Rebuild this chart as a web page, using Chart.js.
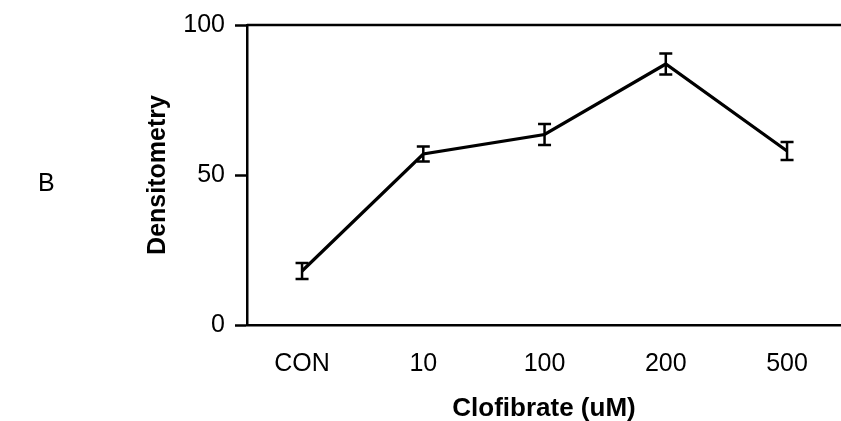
<!DOCTYPE html>
<html>
<head>
<meta charset="utf-8">
<script src="https://cdn.jsdelivr.net/npm/chart.js@4.4.1/dist/chart.umd.min.js"></script>
<style>
  html, body { margin: 0; padding: 0; background: #fff; overflow: hidden; }
  #wrap { position: relative; width: 841px; height: 421px; }
  #panel { position: absolute; left: 38px; top: 168px; font: 25px "Liberation Sans", Arial, sans-serif; color: #000; }
</style>
</head>
<body>
<div id="wrap">
  <canvas id="c" width="841" height="421"></canvas>
  <div id="panel">B</div>
</div>
<script>
const categories = ['CON', '10', '100', '200', '500'];
const densitometry = [18, 57, 63.5, 87, 58];
const errors = [2.7, 2.5, 3.5, 3.5, 3];
const yTicks = [0, 50, 100];
const xTitle = 'Clofibrate (uM)';
const yTitle = 'Densitometry';

const FONT = '"Liberation Sans", Arial, sans-serif';

const errorBars = {
  id: 'errorBars',
  afterDatasetsDraw(chart) {
    const ctx = chart.ctx;
    const xs = chart.scales.x, ys = chart.scales.y;
    ctx.save();
    ctx.strokeStyle = '#000';
    ctx.lineWidth = 2.5;
    densitometry.forEach((v, i) => {
      const x = xs.getPixelForValue(i);
      const yt = ys.getPixelForValue(v + errors[i]);
      const yb = ys.getPixelForValue(v - errors[i]);
      ctx.beginPath();
      ctx.moveTo(x, yt); ctx.lineTo(x, yb);
      ctx.moveTo(x - 6.5, yt); ctx.lineTo(x + 6.5, yt);
      ctx.moveTo(x - 6.5, yb); ctx.lineTo(x + 6.5, yb);
      ctx.stroke();
    });
    ctx.restore();
  },
  afterDraw(chart) {
    const ctx = chart.ctx;
    const a = chart.chartArea;
    ctx.save();
    ctx.strokeStyle = '#000';
    ctx.lineWidth = 2.5;
    ctx.beginPath();
    ctx.moveTo(a.left, a.top);
    ctx.lineTo(a.right, a.top);
    ctx.stroke();
    ctx.restore();
  }
};

new Chart(document.getElementById('c'), {
  type: 'line',
  data: {
    datasets: [{
      data: densitometry.map((v, i) => ({ x: i, y: v })),
      borderColor: '#000',
      borderWidth: 3.2,
      pointRadius: 0,
      tension: 0,
      fill: false
    }]
  },
  options: {
    responsive: false,
    animation: false,
    events: [],
    layout: { padding: { left: 0, right: 0, top: 22, bottom: 0 } },
    plugins: { legend: { display: false }, tooltip: { enabled: false } },
    scales: {
      x: {
        type: 'linear',
        min: -0.454,
        max: 4.445,
        afterBuildTicks: (s) => { s.ticks = categories.map((_, i) => ({ value: i })); },
        afterFit: (s) => { s.height = 96; },
        grid: { display: false, drawTicks: false },
        border: { display: true, color: '#000', width: 2.5 },
        ticks: {
          color: '#000',
          padding: 24,
          maxRotation: 0,
          autoSkip: false,
          font: { family: FONT, size: 25 },
          callback: (v) => categories[v]
        },
        title: {
          display: true,
          text: xTitle,
          color: '#000',
          padding: { top: 0, bottom: -3 },
          font: { family: FONT, size: 26, weight: 'bold' }
        }
      },
      y: {
        min: 0,
        max: 100,
        afterBuildTicks: (s) => { s.ticks = yTicks.map(v => ({ value: v })); },
        afterFit: (s) => { s.width = 247; },
        grid: { drawOnChartArea: false, drawTicks: true, tickLength: 12, color: '#000', tickWidth: 2.5 },
        border: { display: true, color: '#000', width: 2.5 },
        ticks: {
          color: '#000',
          padding: 10,
          font: { family: FONT, size: 25 }
        },
        title: {
          display: true,
          text: yTitle,
          color: '#000',
          padding: { top: 143, bottom: 0 },
          font: { family: FONT, size: 25, weight: 'bold' }
        }
      }
    }
  },
  plugins: [errorBars]
});
</script>
</body>
</html>
